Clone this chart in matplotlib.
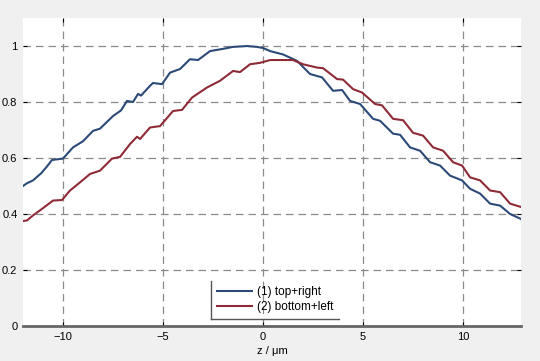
import matplotlib
matplotlib.use("Agg")
import matplotlib.pyplot as plt
from matplotlib.lines import Line2D

plt.rcParams["font.family"] = ["Liberation Sans", "DejaVu Sans"]
plt.rcParams["font.size"] = 8

# (1) top+right
z1 = [-12, -11.8, -11.5, -11.1, -10.8, -10.55, -10.0, -9.5, -9.0, -8.5, -8.15,
      -7.5, -7.1, -6.8, -6.5, -6.25, -6.1, -5.65, -5.5, -5.05, -4.65, -4.15,
      -3.65, -3.25, -2.65, -2.0, -1.5, -0.8, -0.3, 0.0, 0.35, 1.0, 1.7, 2.35,
      2.95, 3.5, 3.95, 4.35, 4.85, 5.5, 5.85, 6.5, 6.85, 7.35, 7.85, 8.35, 8.85,
      9.35, 9.95, 10.35, 10.85, 11.35, 11.85, 12.35, 12.9]
top_right = [0.50, 0.51, 0.52, 0.545, 0.57, 0.593, 0.598, 0.638, 0.66, 0.697,
             0.705, 0.75, 0.77, 0.804, 0.800, 0.829, 0.823, 0.858, 0.868, 0.864,
             0.905, 0.918, 0.953, 0.95, 0.982, 0.99, 0.997, 1.0, 0.997, 0.993,
             0.982, 0.97, 0.947, 0.90, 0.888, 0.84, 0.843, 0.804, 0.793, 0.74,
             0.733, 0.687, 0.683, 0.638, 0.626, 0.585, 0.573, 0.537, 0.52, 0.49,
             0.473, 0.437, 0.43, 0.40, 0.382]

# (2) bottom+left
z2 = [-12, -11.8, -11.5, -11.15, -10.5, -10.05, -9.65, -9.2, -8.65, -8.15,
      -7.55, -7.15, -6.65, -6.3, -6.15, -5.65, -5.15, -4.5, -4.05, -3.55, -2.8,
      -2.15, -1.5, -1.15, -0.65, -0.15, 0.35, 1.5, 2.0, 2.7, 3.0, 3.7, 4.0, 4.5,
      4.95, 5.6, 5.95, 6.5, 7.0, 7.5, 8.0, 8.5, 9.0, 9.5, 9.95, 10.35, 10.85,
      11.35, 11.85, 12.35, 12.9]
bottom_left = [0.375, 0.377, 0.395, 0.413, 0.448, 0.45, 0.484, 0.51, 0.543,
               0.555, 0.598, 0.604, 0.65, 0.676, 0.668, 0.709, 0.714, 0.768,
               0.772, 0.816, 0.852, 0.876, 0.911, 0.907, 0.935, 0.94, 0.95,
               0.95, 0.935, 0.923, 0.921, 0.882, 0.88, 0.846, 0.834, 0.793,
               0.788, 0.74, 0.735, 0.69, 0.68, 0.638, 0.626, 0.585, 0.573,
               0.531, 0.52, 0.484, 0.478, 0.437, 0.425]

labels = ["(1) top+right", "(2) bottom+left"]
colors = ["#2c4a78", "#8e2b36"]

fig = plt.figure(figsize=(5.4, 3.61), dpi=100, facecolor="#f0f0f0")
ax = fig.add_axes([0.0426, 0.097, 0.9224, 0.853])
ax.set_facecolor("white")

ax.plot(z1, top_right, color=colors[0], lw=1.5, label=labels[0])
ax.plot(z2, bottom_left, color=colors[1], lw=1.5, label=labels[1])

ax.set_xlim(-12, 12.9)
ax.set_ylim(0, 1.1)
ax.set_xticks([-10, -5, 0, 5, 10])
ax.set_yticks([0, 0.2, 0.4, 0.6, 0.8, 1])
ax.set_yticklabels(["0", "0.2", "0.4", "0.6", "0.8", "1"])
ax.grid(True, color="#8a8a8a", linestyle=(0, (6, 4)), linewidth=0.9)

for s in ["top", "right", "left"]:
    ax.spines[s].set_visible(False)
ax.spines["bottom"].set_color("#666666")
ax.spines["bottom"].set_linewidth(2)
ax.tick_params(direction="in", top=True, right=True, length=3, width=0.8,
               colors="black", pad=4)

ax.set_xlabel("z / μm", labelpad=3)

leg = ax.legend(loc="lower center", bbox_to_anchor=(0.506, 0.02), frameon=False,
                handlelength=3.0, handletextpad=0.4, borderpad=0.45,
                borderaxespad=0.1, labelspacing=0.25, fontsize=8.5)

# MATLAB-like legend box: left and bottom edges only
fig.canvas.draw()
bb = leg.get_window_extent().transformed(fig.transFigure.inverted())
fig.add_artist(Line2D([bb.x0, bb.x0], [bb.y0, bb.y1], color="#555555", lw=1,
                      transform=fig.transFigure))
fig.add_artist(Line2D([bb.x0, bb.x1], [bb.y0, bb.y0], color="#555555", lw=1,
                      transform=fig.transFigure))

plt.savefig("out.png", dpi=100, facecolor=fig.get_facecolor())
plt.close()
